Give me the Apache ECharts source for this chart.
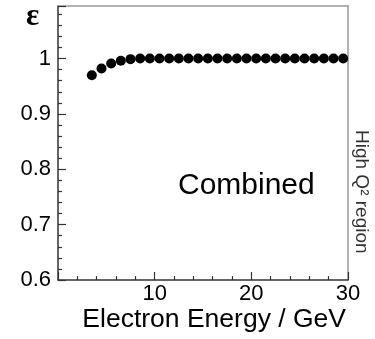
<!DOCTYPE html>
<html>
<head>
<meta charset="utf-8">
<script src="https://cdn.jsdelivr.net/npm/echarts@6/dist/echarts.min.js"></script>
<style>
  html, body { margin: 0; padding: 0; background: #fff; }
  #chart { width: 375px; height: 339px; }
</style>
</head>
<body>
<div id="chart"></div>
<script>
// Electron energy bins (GeV) and the combined efficiency in each bin
const energies = [3.5, 4.5, 5.5, 6.5, 7.5, 8.5, 9.5, 10.5, 11.5, 12.5, 13.5, 14.5, 15.5, 16.5,
                  17.5, 18.5, 19.5, 20.5, 21.5, 22.5, 23.5, 24.5, 25.5, 26.5, 27.5, 28.5, 29.5];
const efficiency = [0.970, 0.982, 0.991, 0.996, 0.999, 1.0, 1.0, 1.0, 1.0, 1.0, 1.0, 1.0, 1.0, 1.0,
                    1.0, 1.0, 1.0, 1.0, 1.0, 1.0, 1.0, 1.0, 1.0, 1.0, 1.0, 1.0, 1.0];
const xTickLabels = ['10', '20', '30'];
const yTickLabels = ['0.6', '0.7', '0.8', '0.9', '1'];

const FONT = '"Liberation Sans", Arial, Helvetica, sans-serif';
const AXIS_COLOR = '#333';
const FRAME_COLOR = '#999';

const points = energies.map((e, i) => [e, efficiency[i]]);

const chart = echarts.init(document.getElementById('chart'), null, { renderer: 'canvas' });

function near(a, b) { return Math.abs(a - b) < 1e-6; }

chart.setOption({
  animation: false,
  backgroundColor: '#fff',
  grid: { left: 58, right: 27, top: 6, bottom: 59, containLabel: false },
  xAxis: [{
    type: 'value', min: 0, max: 30, interval: 10,
    axisLine: { show: true, onZero: false, lineStyle: { color: AXIS_COLOR, width: 1.5 } },
    axisTick: { show: true, inside: true, length: 8, lineStyle: { color: AXIS_COLOR, width: 1.2 } },
    minorTick: { show: true, splitNumber: 5, length: 4, lineStyle: { color: AXIS_COLOR, width: 1.2 } },
    splitLine: { show: false },
    axisLabel: {
      margin: 3, fontSize: 22, color: '#000', fontFamily: FONT,
      formatter: v => xTickLabels.find(t => near(Number(t), v)) || ''
    }
  }, {
    type: 'value', position: 'top', min: 0, max: 30,
    axisLine: { show: true, onZero: false, lineStyle: { color: FRAME_COLOR, width: 1.5 } },
    axisTick: { show: false }, axisLabel: { show: false }, splitLine: { show: false }
  }],
  yAxis: [{
    type: 'value', min: 0.6, max: 1.095, interval: 0.1,
    axisLine: { show: true, onZero: false, lineStyle: { color: AXIS_COLOR, width: 1.5 } },
    axisTick: { show: true, inside: true, length: 8, lineStyle: { color: AXIS_COLOR, width: 1.2 } },
    minorTick: { show: true, splitNumber: 5, length: 4, lineStyle: { color: AXIS_COLOR, width: 1.2 } },
    splitLine: { show: false },
    axisLabel: {
      margin: 7, fontSize: 22, color: '#000', fontFamily: FONT,
      formatter: v => yTickLabels.find(t => near(Number(t), v)) || ''
    }
  }, {
    type: 'value', position: 'right', min: 0.6, max: 1.095,
    axisLine: { show: true, onZero: false, lineStyle: { color: FRAME_COLOR, width: 1.5 } },
    axisTick: { show: false }, axisLabel: { show: false }, splitLine: { show: false }
  }],
  series: [{
    type: 'scatter',
    data: points,
    symbol: 'circle',
    symbolSize: 10,
    itemStyle: { color: '#000', opacity: 1 },
    clip: false
  }],
  graphic: [
    {
      type: 'text', x: 26, y: 1,
      style: { text: 'ε', font: 'bold 31px "Liberation Serif", "DejaVu Serif", serif', fill: '#000' }
    },
    {
      type: 'text', x: 178, y: 186,
      style: { text: 'Combined', font: '30px ' + FONT, fill: '#000', verticalAlign: 'middle' }
    },
    {
      type: 'text', x: 346, y: 306,
      style: { text: 'Electron Energy / GeV', font: '26.5px ' + FONT, fill: '#000', align: 'right', verticalAlign: 'top' }
    },
    {
      type: 'text', x: 361, y: 130, rotation: -Math.PI / 2,
      style: { text: 'High Q² region', font: '19px ' + FONT, fill: '#333', align: 'left', verticalAlign: 'middle' }
    }
  ]
});
</script>
</body>
</html>
